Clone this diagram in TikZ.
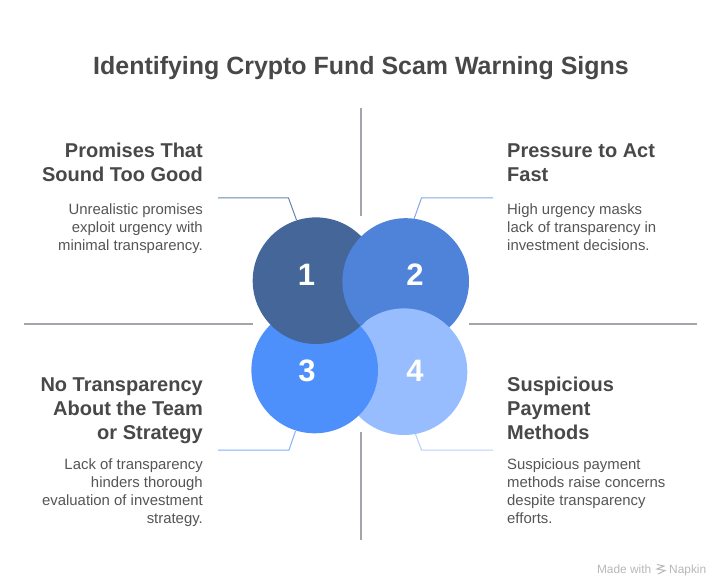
\documentclass[tikz,border=0pt]{standalone}
\usepackage{fontspec}
\setmainfont{Liberation Sans}
\definecolor{cA}{HTML}{446699}
\definecolor{cB}{HTML}{4F83D9}
\definecolor{cC}{HTML}{4D90FB}
\definecolor{cD}{HTML}{97BDFF}
\definecolor{ink}{HTML}{484848}
\definecolor{bodyink}{HTML}{555555}
\definecolor{axisc}{HTML}{A3A5AB}
\newcommand{\headstrut}{\rule{0pt}{15pt}}
\newcommand{\bodystrut}{\rule{0pt}{12pt}}
\tikzset{
  axisline/.style={draw=axisc,line width=1.5pt},
  lead/.style={line width=1pt},
  disc/.style={circle,minimum size=126.6pt,inner sep=0pt,fill=#1},
  num/.style={text=white,font=\fontsize{31}{31}\selectfont\bfseries,inner sep=0pt},
  headl/.style={text=ink,font=\fontsize{20}{24}\selectfont\bfseries,inner sep=0pt,align=right,anchor=north east},
  headr/.style={text=ink,font=\fontsize{20}{24}\selectfont\bfseries,inner sep=0pt,align=left,anchor=north west},
  bodyl/.style={text=bodyink,font=\fontsize{14.9}{18}\selectfont,inner sep=0pt,align=right,anchor=north east},
  bodyr/.style={text=bodyink,font=\fontsize{14.9}{18}\selectfont,inner sep=0pt,align=left,anchor=north west},
  mark text/.style={text=black!28,font=\fontsize{11.9}{12}\selectfont,inner sep=0pt},
}
\begin{document}
\begin{tikzpicture}[x=1pt,y=-1pt]
\useasboundingbox (0,0) rectangle (721,588);
\fill[white] (0,0) rectangle (721,588);
\node[text=ink,font=\fontsize{24.95}{30}\selectfont\bfseries,inner sep=0pt] (title) at (361,68) {Identifying Crypto Fund Scam Warning Signs};
% axis lines
\coordinate (vt1) at (361,108); \coordinate (vt2) at (361,216);
\coordinate (vb1) at (361,432); \coordinate (vb2) at (361,540);
\coordinate (hl1) at (24,324); \coordinate (hl2) at (253,324);
\coordinate (hr1) at (469,324); \coordinate (hr2) at (697,324);
\draw[axisline] (vt1)--(vt2);
\draw[axisline] (vb1)--(vb2);
\draw[axisline] (hl1)--(hl2);
\draw[axisline] (hr1)--(hr2);
% leaders
\coordinate (a1) at (218,198); \coordinate (a2) at (288.5,198); \coordinate (a3) at (296.5,220);
\coordinate (b1) at (493,198); \coordinate (b2) at (421.5,198); \coordinate (b3) at (414,219);
\coordinate (c1) at (218,450); \coordinate (c2) at (289,450); \coordinate (c3) at (295.5,431);
\coordinate (d1) at (493,450); \coordinate (d2) at (421.5,450); \coordinate (d3) at (415,433);
\draw[lead,cA!80!white] (a1)--(a2)--(a3);
\draw[lead,cB!70!white] (b1)--(b2)--(b3);
\draw[lead,cC!70!white] (c1)--(c2)--(c3);
\draw[lead,cD!70!white] (d1)--(d2)--(d3);
% circles (cyclic overlap)
\node[disc=cB] (n2) at (405.7,281.5) {};
\node[disc=cD] (n4) at (404,371.7) {};
\node[disc=cC] (n3) at (314.7,370) {};
\node[disc=cA] (n1) at (316,280.7) {};
\begin{scope}
\clip (316,280.7) circle (64pt);
\fill[cB] (405.7,281.5) circle (63.3pt);
\end{scope}
\node[num] (l1) at (306.5,275) {1};
\node[num] (l2) at (415,275) {2};
\node[num] (l3) at (307,371) {3};
\node[num] (l4) at (415,371) {4};
% texts
\node[headl] (h1) at (203,142.5) {\headstrut Promises That\\Sound Too Good};
\node[bodyl] (t1) at (203,202) {\bodystrut Unrealistic promises\\exploit urgency with\\minimal transparency.};
\node[headr] (h2) at (507,142.5) {\headstrut Pressure to Act\\Fast};
\node[bodyr] (t2) at (507,202) {\bodystrut High urgency masks\\lack of transparency in\\investment decisions.};
\node[headl] (h3) at (203,376.5) {\headstrut No Transparency\\About the Team\\or Strategy};
\node[bodyl] (t3) at (203,457.3) {\bodystrut Lack of transparency\\hinders thorough\\evaluation of investment\\strategy.};
\node[headr] (h4) at (507,376.5) {\headstrut Suspicious\\Payment\\Methods};
\node[bodyr] (t4) at (507,457.3) {\bodystrut Suspicious payment\\methods raise concerns\\despite transparency\\efforts.};
% watermark
\node[mark text,anchor=base east] (m1) at (651.5,573) {Made with};
\node[mark text,anchor=base west] (m2) at (669,573) {Napkin};
\draw[black!28,line width=1pt] (657,564.5)--(664,566)--(657,569)--(665,570.5)--(658,574);
\end{tikzpicture}
\end{document}
